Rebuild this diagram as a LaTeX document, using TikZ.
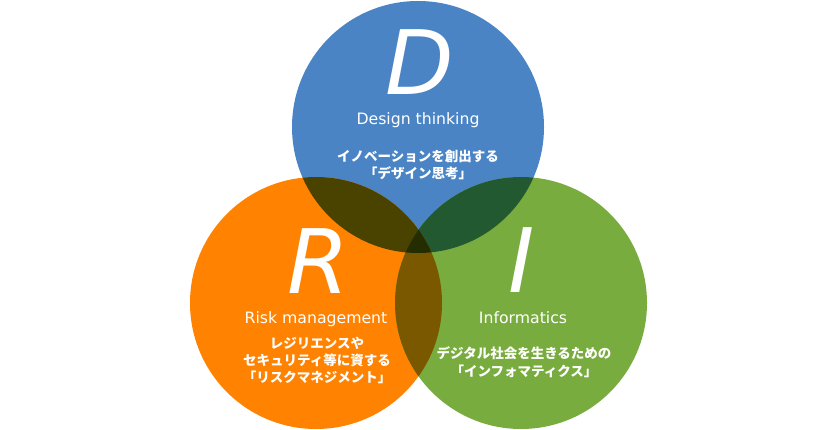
\documentclass[tikz,border=0pt]{standalone}
\usepackage{fontspec}
\setmainfont{DejaVu Sans}
\newfontfamily\jpfont{Noto Sans CJK JP}
\definecolor{cB}{RGB}{74,132,197}
\definecolor{cR}{RGB}{255,130,0}
\definecolor{cI}{RGB}{121,172,62}
\definecolor{cBR}{RGB}{74,67,0}
\definecolor{cBI}{RGB}{35,89,48}
\definecolor{cRI}{RGB}{121,88,0}
\definecolor{cBRI}{RGB}{35,45,0}
\begin{document}
\begin{tikzpicture}[x=1pt,y=-1pt,
  bigletter/.style={text=white,font=\fontsize{89}{89}\selectfont\itshape,anchor=base,inner sep=0,text depth=0pt,text height=65pt},
  titletext/.style={text=white,font=\fontsize{15.7}{18}\selectfont,anchor=base,inner sep=0},
  desc/.style={text=white,font=\jpfont\bfseries\fontsize{13.5}{17}\selectfont,anchor=base,inner sep=0,align=center}]
\useasboundingbox (0,0) rectangle (840,430);
\coordinate (cD) at (418,127);
\coordinate (cRr) at (316,303);
\coordinate (cIi) at (521,303);
\def\rad{126}
\fill[cB] (cD) circle[radius=\rad];
\fill[cR] (cRr) circle[radius=\rad];
\fill[cI] (cIi) circle[radius=\rad];
\begin{scope}
  \clip (cD) circle[radius=\rad];
  \fill[cBR] (cRr) circle[radius=\rad];
\end{scope}
\begin{scope}
  \clip (cD) circle[radius=\rad];
  \fill[cBI] (cIi) circle[radius=\rad];
\end{scope}
\begin{scope}
  \clip (cRr) circle[radius=\rad];
  \fill[cRI] (cIi) circle[radius=\rad];
\end{scope}
\begin{scope}
  \clip (cD) circle[radius=\rad];
  \clip (cRr) circle[radius=\rad];
  \fill[cBRI] (cIi) circle[radius=\rad];
\end{scope}
\node[bigletter] (LD) at (420,95) {D};
\node[bigletter] (LR) at (318,293) {R};
\node[bigletter] (LI) at (522,292) {I};
\node[titletext] (TD) at (418,125) {Design thinking};
\node[titletext] (TR) at (316,323) {Risk management};
\node[titletext] (TI) at (523,323) {Informatics};
\node[desc] (DD) at (418,179) {イノベーションを創出する\\「デザイン思考」};
\node[desc] (DR) at (317,382.5) {レジリエンスや\\セキュリティ等に資する\\「リスクマネジメント」};
\node[desc] (DI) at (524,376.5) {デジタル社会を生きるための\\[1.5pt]「インフォマティクス」};
\end{tikzpicture}
\end{document}
